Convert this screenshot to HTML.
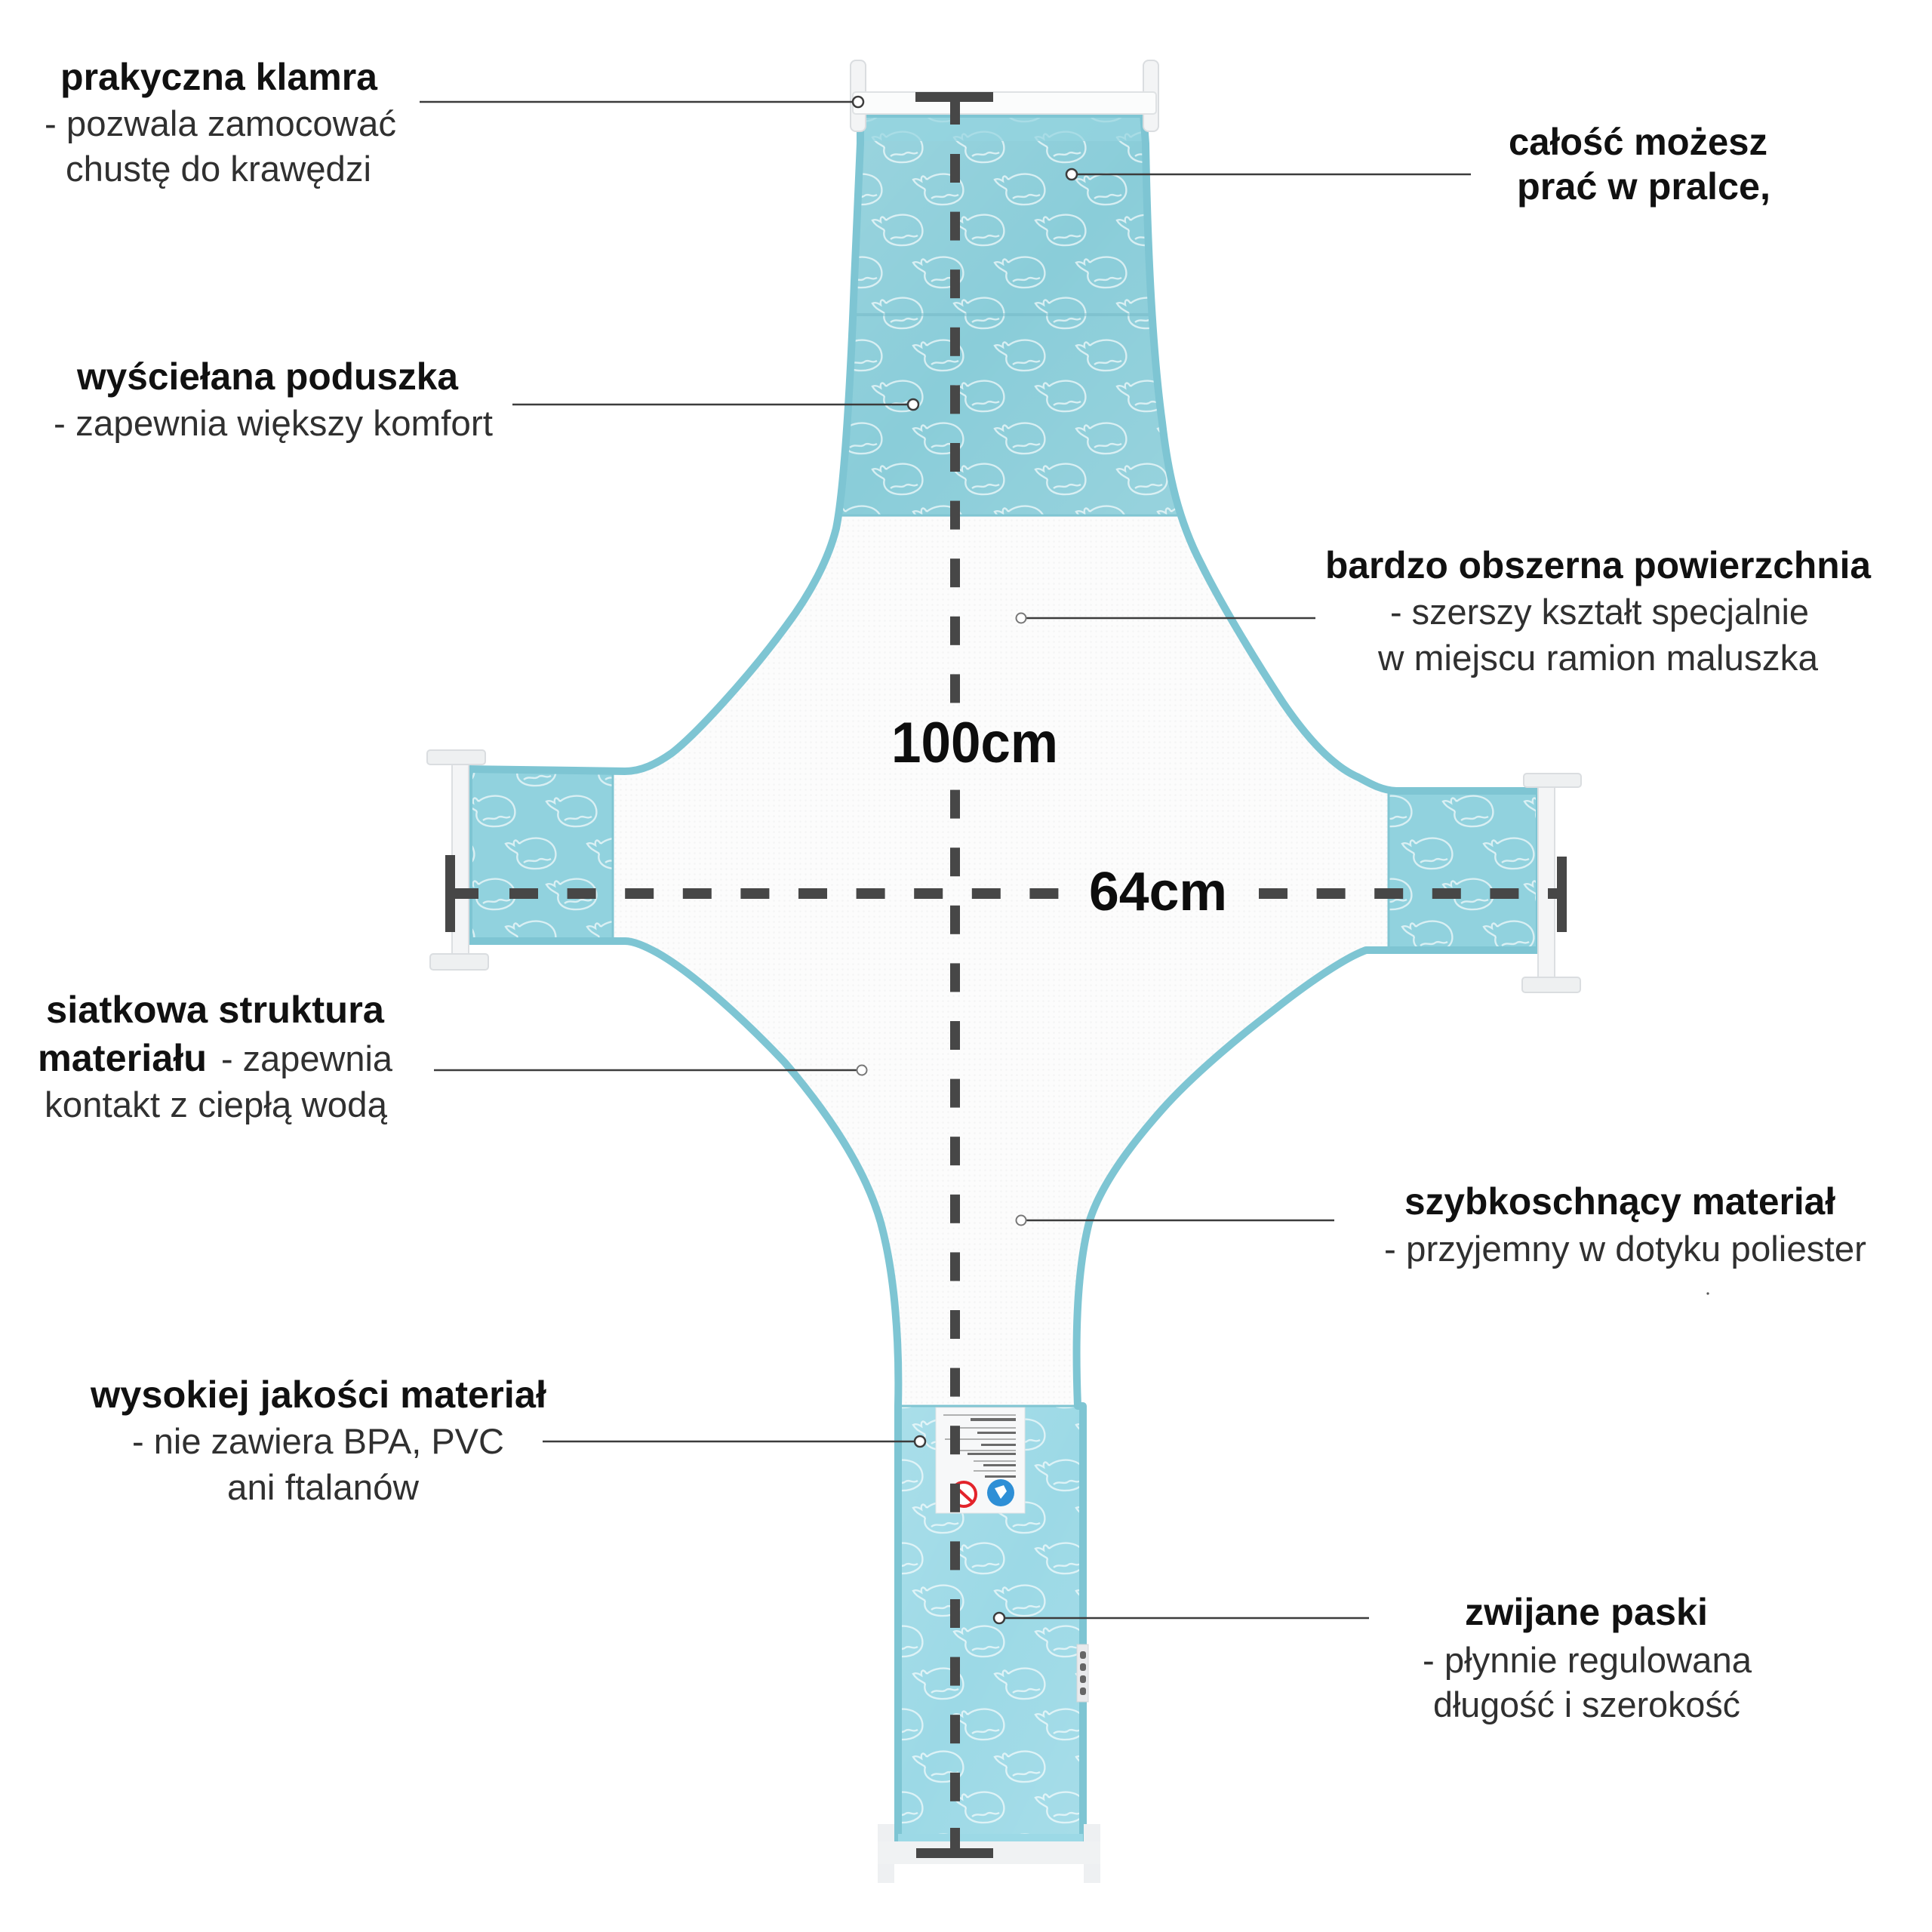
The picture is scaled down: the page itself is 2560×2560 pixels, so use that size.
<!DOCTYPE html>
<html><head><meta charset="utf-8">
<style>
html,body{margin:0;padding:0;background:#fff;}
svg{display:block;}
text{font-family:"Liberation Sans",sans-serif;}
.b{font-weight:700;font-size:50px;fill:#111;}
.r{font-weight:400;font-size:47px;fill:#303030;}
</style></head>
<body>
<svg xmlns="http://www.w3.org/2000/svg" width="2560" height="2560" viewBox="0 0 2560 2560">
<defs>
  <path id="silp" d="M 1140 151 L 1515 151 L 1518 190 C 1520 300 1525 450 1540 560 C 1548 630 1562 690 1591 746 C 1615 795 1660 870 1700 931 C 1730 975 1765 1015 1800 1030 C 1815 1038 1830 1047 1850 1048 L 2040 1048 L 2040 1259 L 1810 1259 C 1780 1270 1730 1305 1687 1339 C 1640 1375 1580 1425 1540 1470 C 1500 1515 1458 1570 1443 1620 C 1428 1680 1424 1760 1428 1863 L 1435 1863 L 1435 2440 L 1190 2440 L 1190 1863 C 1192 1780 1186 1690 1167 1620 C 1150 1560 1110 1490 1040 1408 C 990 1355 920 1290 870 1262 C 855 1254 840 1247 828 1247 L 621 1247 L 621 1019 L 828 1022 C 850 1022 870 1012 890 998 C 920 975 990 900 1042 829 C 1075 785 1098 740 1108 700 C 1120 640 1128 480 1132 372 C 1135 300 1138 230 1140 190 Z"/>
  <clipPath id="cl"><use href="#silp"/></clipPath>
  <pattern id="mesh" width="7" height="7" patternUnits="userSpaceOnUse">
    <circle cx="3.5" cy="3.5" r="1.3" fill="#e4e7e8"/>
  </pattern>
  <g id="whale" fill="none" stroke="#ffffff" stroke-width="2.4" stroke-opacity="0.65">
    <path d="M20 12 C 34 0 64 2 68 22 C 71 38 56 46 38 45 C 22 44 15 35 18 25"/>
    <path d="M18 25 C 12 21 6 19 2 12 C 6 10 10 12 13 14 C 12 8 15 4 20 12"/>
    <path d="M26 37 C 33 31 40 38 46 33 C 51 30 56 36 62 32"/>
  </g>
  <pattern id="wh" width="108" height="110" patternUnits="userSpaceOnUse">
    <use href="#whale" x="20" y="6"/>
    <use href="#whale" x="74" y="60"/>
    <use href="#whale" x="-34" y="60"/>
  </pattern>
  <linearGradient id="sheen" x1="0" y1="0" x2="1" y2="1">
    <stop offset="0" stop-color="#ffffff" stop-opacity="0.15"/>
    <stop offset="0.5" stop-color="#ffffff" stop-opacity="0"/>
    <stop offset="1" stop-color="#ffffff" stop-opacity="0.12"/>
  </linearGradient>
</defs>

<rect width="2560" height="2560" fill="#ffffff"/>

<!-- mesh body -->
<use href="#silp" fill="#fcfcfc"/>
<use href="#silp" fill="url(#mesh)" opacity="0.35"/>

<!-- fabric panels -->
<g clip-path="url(#cl)">
  <rect x="1100" y="140" width="480" height="543" fill="#8acdd9"/>
  <rect x="1100" y="140" width="480" height="543" fill="url(#wh)"/>
  <rect x="1100" y="140" width="480" height="543" fill="url(#sheen)"/>
  <rect x="1100" y="151" width="480" height="36" fill="#94d4e0" opacity="0.7"/>
  <line x1="1100" y1="417" x2="1580" y2="417" stroke="#74b8c6" stroke-width="4" opacity="0.5"/>

  <rect x="600" y="1000" width="212" height="270" fill="#91d2de"/>
  <rect x="600" y="1000" width="212" height="270" fill="url(#wh)"/>

  <rect x="1840" y="1020" width="220" height="260" fill="#91d2de"/>
  <rect x="1840" y="1020" width="220" height="260" fill="url(#wh)"/>

  <rect x="1170" y="1863" width="290" height="590" fill="#9cd9e6"/>
  <rect x="1170" y="1863" width="290" height="590" fill="url(#wh)"/>
  <rect x="1170" y="1863" width="290" height="590" fill="url(#sheen)"/>
</g>
<!-- seams -->
<line x1="1110" y1="683" x2="1560" y2="683" stroke="#80c5d2" stroke-width="3"/>
<line x1="812" y1="1022" x2="812" y2="1245" stroke="#80c5d2" stroke-width="3"/>
<line x1="1840" y1="1050" x2="1840" y2="1257" stroke="#80c5d2" stroke-width="3"/>
<line x1="1190" y1="1863" x2="1435" y2="1863" stroke="#80c5d2" stroke-width="3"/>

<!-- binding -->
<use href="#silp" fill="none" stroke="#7ec5d3" stroke-width="10" stroke-linejoin="round"/>

<!-- label tag on bottom strap -->
<rect x="1240" y="1865" width="118" height="140" fill="#f7f8f9" stroke="#e0e3e5" stroke-width="1"/>
<g fill="#6a6a6a">
  <rect x="1250" y="1874" width="96" height="2" opacity="0.5"/>
  <rect x="1286" y="1879" width="60" height="4"/>
  <rect x="1262" y="1891" width="84" height="2" opacity="0.5"/>
  <rect x="1295" y="1897" width="51" height="3"/>
  <rect x="1252" y="1906" width="94" height="2" opacity="0.5"/>
  <rect x="1300" y="1913" width="46" height="3"/>
  <rect x="1260" y="1921" width="86" height="2" opacity="0.5"/>
  <rect x="1282" y="1925" width="64" height="3"/>
  <rect x="1290" y="1935" width="56" height="2" opacity="0.5"/>
  <rect x="1303" y="1940" width="43" height="3"/>
  <rect x="1290" y="1948" width="56" height="2" opacity="0.5"/>
  <rect x="1305" y="1955" width="41" height="3"/>
</g>
<circle cx="1277" cy="1980" r="16" fill="#fff" stroke="#e3242b" stroke-width="4"/>
<line x1="1266" y1="1970" x2="1288" y2="1990" stroke="#e3242b" stroke-width="4"/>
<circle cx="1326" cy="1978" r="18" fill="#2e8fd6"/>
<path d="M1318 1972 L1330 1968 L1334 1976 L1326 1986 Z" fill="#ffffff"/>

<!-- small side tag -->
<rect x="1427" y="2179" width="15" height="76" fill="#e9eaec" stroke="#d4d6d8" stroke-width="1"/>
<g fill="#666"><rect x="1431" y="2188" width="8" height="10" rx="3"/><rect x="1431" y="2204" width="8" height="10" rx="3"/><rect x="1431" y="2220" width="8" height="10" rx="3"/><rect x="1431" y="2236" width="8" height="10" rx="3"/></g>

<!-- top clip -->
<rect x="1127" y="80" width="20" height="94" rx="7" fill="#f3f4f5" stroke="#dadde0" stroke-width="2"/>
<rect x="1515" y="80" width="20" height="94" rx="7" fill="#f3f4f5" stroke="#dadde0" stroke-width="2"/>
<rect x="1130" y="122" width="402" height="29" rx="4" fill="#fbfcfc" stroke="#dfe2e4" stroke-width="2"/>

<!-- left clip -->
<rect x="599" y="998" width="22" height="280" fill="#f4f5f6" stroke="#dcdfe2" stroke-width="2"/>
<rect x="566" y="994" width="77" height="19" rx="4" fill="#eef0f1" stroke="#dadde0" stroke-width="2"/>
<rect x="570" y="1264" width="77" height="21" rx="4" fill="#eef0f1" stroke="#dadde0" stroke-width="2"/>

<!-- right clip -->
<rect x="2038" y="1026" width="22" height="287" fill="#f4f5f6" stroke="#dcdfe2" stroke-width="2"/>
<rect x="2019" y="1025" width="76" height="18" rx="4" fill="#eef0f1" stroke="#dadde0" stroke-width="2"/>
<rect x="2017" y="1295" width="77" height="20" rx="4" fill="#eef0f1" stroke="#dadde0" stroke-width="2"/>

<!-- bottom clip -->
<rect x="1163" y="2417" width="22" height="78" fill="#eef0f2"/>
<rect x="1436" y="2417" width="22" height="78" fill="#eef0f2"/>
<rect x="1163" y="2440" width="295" height="30" fill="#f0f2f3"/>
<rect x="1190" y="2430" width="245" height="10" fill="#9cd9e6"/>

<!-- dimension dashes -->
<g fill="#474747">
  <rect x="1213" y="122" width="103" height="13"/>
  <rect x="1259" y="122" width="13" height="43"/>
  <rect x="1259" y="204" width="13" height="38"/>
  <rect x="1259" y="280.6" width="13" height="38"/>
  <rect x="1259" y="357.2" width="13" height="38"/>
  <rect x="1259" y="433.8" width="13" height="38"/>
  <rect x="1259" y="510.4" width="13" height="38"/>
  <rect x="1259" y="587" width="13" height="38"/>
  <rect x="1259" y="663.6" width="13" height="38"/>
  <rect x="1259" y="740.2" width="13" height="38"/>
  <rect x="1259" y="816.8" width="13" height="38"/>
  <rect x="1259" y="893.4" width="13" height="38"/>
  <rect x="1259" y="1046.6" width="13" height="38"/>
  <rect x="1259" y="1123.2" width="13" height="38"/>
  <rect x="1259" y="1199.8" width="13" height="38"/>
  <rect x="1259" y="1276.4" width="13" height="38"/>
  <rect x="1259" y="1353" width="13" height="38"/>
  <rect x="1259" y="1429.6" width="13" height="38"/>
  <rect x="1259" y="1506.2" width="13" height="38"/>
  <rect x="1259" y="1582.8" width="13" height="38"/>
  <rect x="1259" y="1659.4" width="13" height="38"/>
  <rect x="1259" y="1736" width="13" height="38"/>
  <rect x="1259" y="1812.6" width="13" height="38"/>
  <rect x="1259" y="1889.2" width="13" height="38"/>
  <rect x="1259" y="1965.8" width="13" height="38"/>
  <rect x="1259" y="2042.4" width="13" height="38"/>
  <rect x="1259" y="2119" width="13" height="38"/>
  <rect x="1259" y="2195.6" width="13" height="38"/>
  <rect x="1259" y="2272.2" width="13" height="38"/>
  <rect x="1259" y="2348.8" width="13" height="38"/>
  <rect x="1259" y="2422" width="13" height="40"/>
  <rect x="1214" y="2449" width="102" height="13"/>
  <rect x="590" y="1133" width="13" height="102"/>
  <rect x="590" y="1177" width="44" height="14"/>
  <rect x="675" y="1177" width="38" height="14"/>
  <rect x="751.6" y="1177" width="38" height="14"/>
  <rect x="828.2" y="1177" width="38" height="14"/>
  <rect x="904.8" y="1177" width="38" height="14"/>
  <rect x="981.4" y="1177" width="38" height="14"/>
  <rect x="1058" y="1177" width="38" height="14"/>
  <rect x="1134.6" y="1177" width="38" height="14"/>
  <rect x="1211.2" y="1177" width="38" height="14"/>
  <rect x="1287.8" y="1177" width="38" height="14"/>
  <rect x="1364.4" y="1177" width="38" height="14"/>
  <rect x="1668" y="1177" width="38" height="14"/>
  <rect x="1744.6" y="1177" width="38" height="14"/>
  <rect x="1821.2" y="1177" width="38" height="14"/>
  <rect x="1897.8" y="1177" width="38" height="14"/>
  <rect x="1974.4" y="1177" width="38" height="14"/>
  <rect x="2051" y="1177" width="25" height="14"/>
  <rect x="2063" y="1135" width="13" height="100"/>
</g>

<!-- pointer lines -->
<g stroke="#3c3c3c" stroke-width="2.5">
  <line x1="556" y1="135" x2="1130" y2="135"/>
  <line x1="1427" y1="231" x2="1949" y2="231"/>
  <line x1="679" y1="536" x2="1203" y2="536"/>
  <line x1="1360" y1="819" x2="1743" y2="819"/>
  <line x1="575" y1="1418" x2="1135" y2="1418"/>
  <line x1="1360" y1="1617" x2="1768" y2="1617"/>
  <line x1="719" y1="1910" x2="1212" y2="1910"/>
  <line x1="1331" y1="2144" x2="1814" y2="2144"/>
</g>
<g fill="#ffffff" stroke="#3c3c3c" stroke-width="2.5">
  <circle cx="1137" cy="135" r="7"/>
  <circle cx="1420" cy="231" r="7"/>
  <circle cx="1210" cy="536" r="7"/>
  <circle cx="1219" cy="1910" r="7"/>
  <circle cx="1324" cy="2144" r="7"/>
</g>
<g fill="#ffffff" stroke="#777777" stroke-width="2">
  <circle cx="1353" cy="819" r="6.5"/>
  <circle cx="1142" cy="1418" r="6.5"/>
  <circle cx="1353" cy="1617" r="6.5"/>
</g>
<circle cx="2263" cy="1714" r="1.6" fill="#555"/>

<!-- labels -->
<text class="b" x="80" y="119" textLength="420" lengthAdjust="spacingAndGlyphs">prakyczna klamra</text>
<text class="r" x="59" y="180" textLength="466" lengthAdjust="spacingAndGlyphs">- pozwala zamocować</text>
<text class="r" x="87" y="240" textLength="405" lengthAdjust="spacingAndGlyphs">chustę do krawędzi</text>

<text class="b" x="102" y="516" textLength="505" lengthAdjust="spacingAndGlyphs">wyściełana poduszka</text>
<text class="r" x="71" y="577" textLength="582" lengthAdjust="spacingAndGlyphs">- zapewnia większy komfort</text>

<text class="b" x="1999" y="205" textLength="343" lengthAdjust="spacingAndGlyphs">całość możesz</text>
<text class="b" x="2010" y="264" textLength="336" lengthAdjust="spacingAndGlyphs">prać w pralce,</text>

<text class="b" x="1756" y="766" textLength="723" lengthAdjust="spacingAndGlyphs">bardzo obszerna powierzchnia</text>
<text class="r" x="1842" y="827" textLength="555" lengthAdjust="spacingAndGlyphs">- szerszy kształt specjalnie</text>
<text class="r" x="1826" y="888" textLength="583" lengthAdjust="spacingAndGlyphs">w miejscu ramion maluszka</text>

<text class="b" x="61" y="1355" textLength="448" lengthAdjust="spacingAndGlyphs">siatkowa struktura</text>
<text class="b" x="50" y="1419" textLength="224" lengthAdjust="spacingAndGlyphs">materiału</text>
<text class="r" x="293" y="1419" textLength="227" lengthAdjust="spacingAndGlyphs">- zapewnia</text>
<text class="r" x="59" y="1480" textLength="454" lengthAdjust="spacingAndGlyphs">kontakt z ciepłą wodą</text>

<text class="b" x="1861" y="1609" textLength="571" lengthAdjust="spacingAndGlyphs">szybkoschnący materiał</text>
<text class="r" x="1834" y="1671" textLength="639" lengthAdjust="spacingAndGlyphs">- przyjemny w dotyku poliester</text>

<text class="b" x="120" y="1865" textLength="604" lengthAdjust="spacingAndGlyphs">wysokiej jakości materiał</text>
<text class="r" x="175" y="1926" textLength="493" lengthAdjust="spacingAndGlyphs">- nie zawiera BPA, PVC</text>
<text class="r" x="301" y="1987" textLength="254" lengthAdjust="spacingAndGlyphs">ani ftalanów</text>

<text class="b" x="1941" y="2153" textLength="322" lengthAdjust="spacingAndGlyphs">zwijane paski</text>
<text class="r" x="1885" y="2216" textLength="436" lengthAdjust="spacingAndGlyphs">- płynnie regulowana</text>
<text class="r" x="1899" y="2275" textLength="407" lengthAdjust="spacingAndGlyphs">długość i szerokość</text>

<text x="1181" y="1010" textLength="221" lengthAdjust="spacingAndGlyphs" style="font-weight:700;font-size:76px;fill:#0d0d0d;">100cm</text>
<text x="1443" y="1206" textLength="183" lengthAdjust="spacingAndGlyphs" style="font-weight:700;font-size:72px;fill:#0d0d0d;">64cm</text>
</svg>
</body></html>
